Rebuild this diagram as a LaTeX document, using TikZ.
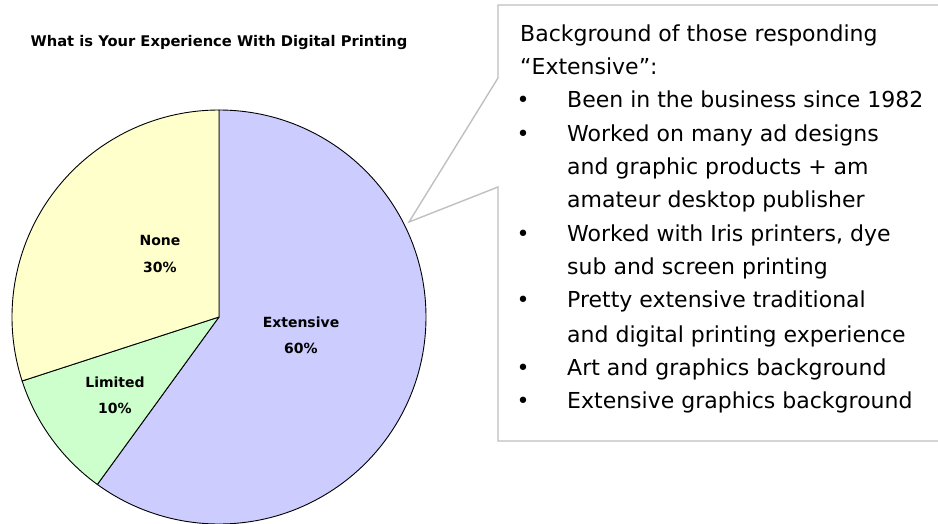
\documentclass[tikz,border=0pt]{standalone}
\usepackage{fontspec}
\setmainfont{DejaVu Sans}
\definecolor{extc}{HTML}{CCCCFF}
\definecolor{limc}{HTML}{CCFFCC}
\definecolor{nonc}{HTML}{FFFFCC}
\definecolor{callgray}{HTML}{C0C0C0}
\tikzset{
  slice/.style={draw=black,line width=0.9pt,line join=round},
  pielabel/.style={font=\fontsize{14}{16}\selectfont\bfseries,anchor=base,inner sep=0pt},
  titlelabel/.style={font=\fontsize{14.7}{17}\selectfont\bfseries,anchor=base,inner sep=0pt},
  calltext/.style={font=\fontsize{22}{26}\selectfont,anchor=base west,inner sep=0pt},
  bulletmark/.style={font=\fontsize{22}{26}\selectfont,anchor=base,inner sep=0pt},
  callout/.style={draw=callgray,line width=1.4pt,line join=miter}
}
\begin{document}
\begin{tikzpicture}[x=1pt,y=1pt]
\useasboundingbox (0,0) rectangle (938,523);
\clip (0,0) rectangle (938,523);
\fill[white] (0,0) rectangle (938,523);
% pie
\coordinate (c) at (219,206);
\filldraw[slice,fill=extc] (c) -- ++(90:207) arc[start angle=90,end angle=-126,radius=207] -- cycle;
\filldraw[slice,fill=limc] (c) -- ++(-126:207) arc[start angle=-126,end angle=-162,radius=207] -- cycle;
\filldraw[slice,fill=nonc] (c) -- ++(-162:207) arc[start angle=-162,end angle=-270,radius=207] -- cycle;
% labels
\node[titlelabel] (title) at (219,476) {What is Your Experience With Digital Printing};
\node[pielabel] (none) at (160,277) {None};
\node[pielabel] (nonep) at (160,250) {30\%};
\node[pielabel] (ext) at (301,196) {Extensive};
\node[pielabel] (extp) at (301,170) {60\%};
\node[pielabel] (lim) at (115,136) {Limited};
\node[pielabel] (limp) at (115,110) {10\%};
% callout
\coordinate (tip) at (409,301);
\draw[callout] (960,518) -- (498,518) -- (498,445) -- (tip) -- (498,336) -- (498,82) -- (960,82);
\node[calltext] (h1) at (520,481) {Background of those responding};
\node[calltext] (h2) at (520,448) {“Extensive”:};
\node[bulletmark] (b1) at (523,415) {•};
\node[calltext] (t1) at (567,415) {Been in the business since 1982};
\node[bulletmark] (b2) at (523,381) {•};
\node[calltext] (t2) at (567,381) {Worked on many ad designs};
\node[calltext] (t2b) at (567,348) {and graphic products + am};
\node[calltext] (t2c) at (567,315) {amateur desktop publisher};
\node[bulletmark] (b3) at (523,281) {•};
\node[calltext] (t3) at (567,281) {Worked with Iris printers, dye};
\node[calltext] (t3b) at (567,248) {sub and screen printing};
\node[bulletmark] (b4) at (523,215) {•};
\node[calltext] (t4) at (567,215) {Pretty extensive traditional};
\node[calltext] (t4b) at (567,181) {and digital printing experience};
\node[bulletmark] (b5) at (523,148) {•};
\node[calltext] (t5) at (567,148) {Art and graphics background};
\node[bulletmark] (b6) at (523,115) {•};
\node[calltext] (t6) at (567,115) {Extensive graphics background};
\end{tikzpicture}
\end{document}
